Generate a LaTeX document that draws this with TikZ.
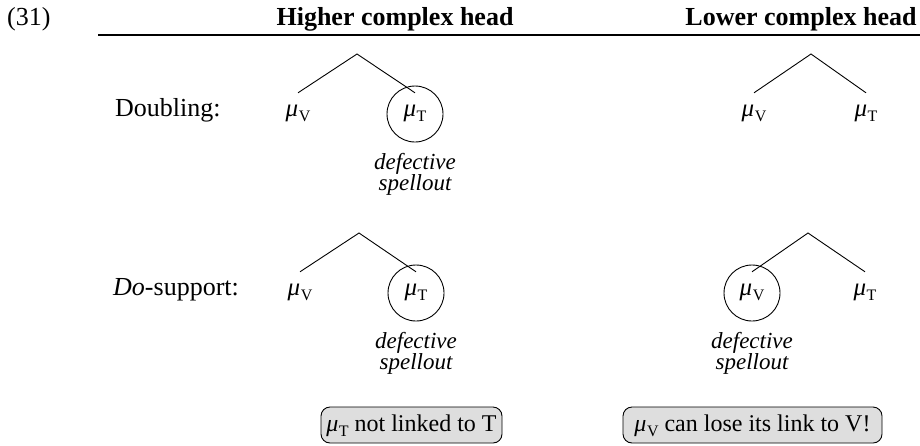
\documentclass[tikz,border=0pt]{standalone}
\usepackage{fontspec}
\setmainfont{Liberation Serif}
\newcommand{\musub}[1]{\textit{μ}\kern0.5pt\raisebox{-0.22em}{\fontsize{16}{16}\selectfont #1}}
\definecolor{boxgray}{RGB}{222,222,222}
\begin{document}
\begin{tikzpicture}[x=1pt,y=-1pt,
  txt/.style={font=\fontsize{26}{30}\selectfont, inner sep=0pt},
  head/.style={font=\fontsize{26}{30}\selectfont\bfseries, inner sep=0pt, anchor=base},
  leaf/.style={font=\fontsize{25}{30}\selectfont, anchor=base, inner xsep=0pt, inner ysep=12pt, text height=11pt, text depth=0pt},
  ring/.style={draw, circle, minimum size=56pt, inner sep=0pt, line width=0.9pt},
  edge/.style={line width=0.9pt},
  note/.style={font=\fontsize{23}{23}\selectfont\itshape, inner sep=0pt, anchor=base},
  callout/.style={draw, fill=boxgray, rounded corners=9pt, line width=0.9pt, font=\fontsize{24}{28}\selectfont, minimum height=36pt, text height=17pt, text depth=5pt, inner xsep=3pt}]
\useasboundingbox (0,0) rectangle (920,445);
% header
\node[txt, anchor=base west] (num) at (7,25) {(31)};
\node[head] (hh) at (395,25) {Higher complex head};
\node[head] (lh) at (801,25) {Lower complex head};
\coordinate (r0) at (98,35);
\coordinate (r1) at (920,35);
\draw[line width=1.2pt] (r0) -- (r1);
% row labels
\node[txt, anchor=base west] (lab1) at (115,116) {Doubling:};
\node[txt, anchor=base west] (lab2) at (113,295) {\textit{Do}-support:};
% row 1, higher
\coordinate (a1) at (357,54);
\node[leaf] (v1) at (298,116) {\musub{V}};
\node[leaf] (t1) at (415,116) {\musub{T}};
\node[ring] (c1) at (415,114) {};
\draw[edge] (v1.north) -- (a1) -- (t1.north);
\node[note] (d1a) at (415,169) {defective};
\node[note] (d1b) at (415,190) {spellout};
% row 1, lower
\coordinate (a2) at (811,54);
\node[leaf] (v2) at (754,116) {\musub{V}};
\node[leaf] (t2) at (866,116) {\musub{T}};
\draw[edge] (v2.north) -- (a2) -- (t2.north);
% row 2, higher
\coordinate (a3) at (359,233);
\node[leaf] (v3) at (300,295) {\musub{V}};
\node[leaf] (t3) at (416,295) {\musub{T}};
\node[ring] (c3) at (416,293) {};
\draw[edge] (v3.north) -- (a3) -- (t3.north);
\node[note] (d3a) at (416,348) {defective};
\node[note] (d3b) at (416,369) {spellout};
% row 2, lower
\coordinate (a4) at (808,233);
\node[leaf] (v4) at (752,295) {\musub{V}};
\node[leaf] (t4) at (865,295) {\musub{T}};
\node[ring] (c4) at (752,293) {};
\draw[edge] (v4.north) -- (a4) -- (t4.north);
\node[note] (d4a) at (752,348) {defective};
\node[note] (d4b) at (752,369) {spellout};
% callouts
\node[callout, minimum width=181pt] (b1) at (411.5,425) {\musub{T} not linked to T};
\node[callout, minimum width=259pt] (b2) at (752.5,425) {\musub{V} can lose its link to V!};
\end{tikzpicture}
\end{document}
